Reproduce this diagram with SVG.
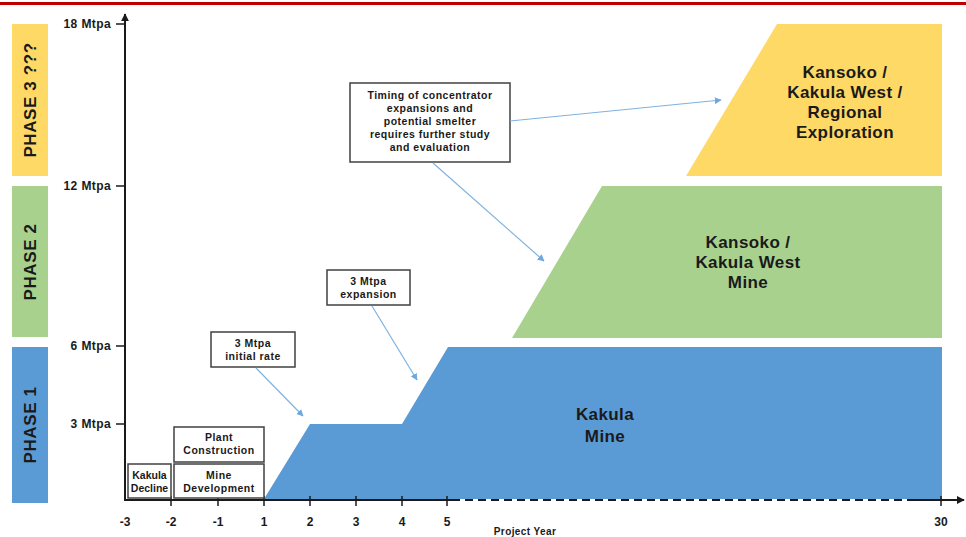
<svg xmlns="http://www.w3.org/2000/svg" width="966" height="537" viewBox="0 0 966 537">
<defs>
<style>
text{font-family:"Liberation Sans",Arial,sans-serif;font-weight:bold;fill:#1a1a1a}
.ax{stroke:#1a1a1a;stroke-width:2;fill:none}
.tk{stroke:#1a1a1a;stroke-width:1.5}
.yl{font-size:12px;text-anchor:end;letter-spacing:0.4px}
.xl{font-size:12px;text-anchor:middle}
.ph{font-size:17px;text-anchor:middle;letter-spacing:0.6px}
.big{font-size:17px;text-anchor:middle;letter-spacing:0.4px}
.bx{fill:#fff;stroke:#404040;stroke-width:1.5}
.bt{font-size:10.5px;text-anchor:middle;letter-spacing:0.5px}
.cn{stroke:#7fb2e0;stroke-width:1.2;fill:none;marker-end:url(#ah)}
</style>
<marker id="ah" viewBox="0 0 10 10" refX="9" refY="5" markerWidth="7" markerHeight="7" orient="auto" markerUnits="userSpaceOnUse"><path d="M0,0 L10,5 L0,10 z" fill="#6fa8dc"/></marker>
<marker id="axh" viewBox="0 0 10 10" refX="9" refY="5" markerWidth="8" markerHeight="8" orient="auto" markerUnits="userSpaceOnUse"><path d="M0,0 L10,5 L0,10 z" fill="#1a1a1a"/></marker>
</defs>
<rect width="966" height="537" fill="#fff"/>
<line x1="0" y1="3.5" x2="966" y2="3.5" stroke="#c00000" stroke-width="3"/>

<g id="phases">
<g id="phase3"><rect x="12" y="24" width="36" height="152" fill="#ffd966"/><text class="ph" transform="translate(36,100) rotate(-90)">PHASE 3 ???</text></g>
<g id="phase2"><rect x="12" y="186" width="36" height="151" fill="#a9d18e"/><text class="ph" transform="translate(36,262) rotate(-90)">PHASE 2</text></g>
<g id="phase1"><rect x="12" y="347" width="36" height="156" fill="#5b9bd5"/><text class="ph" transform="translate(36,425) rotate(-90)">PHASE 1</text></g>
</g>

<g id="kakula-mine"><polygon points="264,499 310,424 402,424 448,347 942,347 942,499" fill="#5b9bd5"/><text class="big" x="605" y="420">Kakula</text><text class="big" x="605" y="442">Mine</text></g>
<g id="kansoko-mine"><polygon points="512,338 602,186 942,186 942,338" fill="#a9d18e"/><text class="big" x="748" y="248">Kansoko /</text><text class="big" x="748" y="268">Kakula West</text><text class="big" x="748" y="288">Mine</text></g>
<g id="regional"><polygon points="686,176 777,24 942,24 942,176" fill="#ffd966"/><text class="big" x="845" y="78">Kansoko /</text><text class="big" x="845" y="98">Kakula West /</text><text class="big" x="845" y="118">Regional</text><text class="big" x="845" y="138">Exploration</text></g>

<g id="axes">
<line class="ax" x1="125" y1="500" x2="125" y2="14" marker-end="url(#axh)"/>
<line class="ax" x1="124" y1="500" x2="452" y2="500"/>
<line class="ax" x1="452" y1="500" x2="910" y2="500" stroke-dasharray="8,5"/>
<line class="ax" x1="910" y1="500" x2="964" y2="500" marker-end="url(#axh)"/>
<g class="tk">
<line x1="116" y1="24" x2="125" y2="24"/><line x1="116" y1="186" x2="125" y2="186"/><line x1="116" y1="346" x2="125" y2="346"/><line x1="116" y1="424" x2="125" y2="424"/>
<line x1="171" y1="496" x2="171" y2="506"/><line x1="218" y1="496" x2="218" y2="506"/><line x1="264" y1="496" x2="264" y2="506"/><line x1="310" y1="496" x2="310" y2="506"/><line x1="356" y1="496" x2="356" y2="506"/><line x1="402" y1="496" x2="402" y2="506"/><line x1="447" y1="496" x2="447" y2="506"/><line x1="941" y1="496" x2="941" y2="506"/>
</g>
<text class="yl" x="111" y="28">18 Mtpa</text>
<text class="yl" x="111" y="190">12 Mtpa</text>
<text class="yl" x="111" y="350">6 Mtpa</text>
<text class="yl" x="111" y="428">3 Mtpa</text>
<text class="xl" x="125" y="526">-3</text>
<text class="xl" x="171" y="526">-2</text>
<text class="xl" x="218" y="526">-1</text>
<text class="xl" x="264" y="526">1</text>
<text class="xl" x="310" y="526">2</text>
<text class="xl" x="356" y="526">3</text>
<text class="xl" x="402" y="526">4</text>
<text class="xl" x="447" y="526">5</text>
<text class="xl" x="941" y="526">30</text>
<text x="525" y="535" style="font-size:10px;text-anchor:middle;letter-spacing:0.4px">Project Year</text>
</g>

<g id="kakula-decline"><rect class="bx" x="128" y="464" width="43" height="34"/><text class="bt" x="149.5" y="479" style="letter-spacing:0">Kakula</text><text class="bt" x="149.5" y="492" style="letter-spacing:0">Decline</text></g>
<g id="mine-development"><rect class="bx" x="174" y="464" width="90" height="34"/><text class="bt" x="219" y="479">Mine</text><text class="bt" x="219" y="492">Development</text></g>
<g id="plant-construction"><rect class="bx" x="174" y="427" width="90" height="35"/><text class="bt" x="219" y="441">Plant</text><text class="bt" x="219" y="454">Construction</text></g>
<g id="initial-rate"><rect class="bx" x="211" y="332" width="84" height="35"/><text class="bt" x="253" y="347">3 Mtpa</text><text class="bt" x="253" y="360">initial rate</text></g>
<g id="expansion"><rect class="bx" x="327" y="270" width="83" height="35"/><text class="bt" x="368.5" y="285">3 Mtpa</text><text class="bt" x="368.5" y="298">expansion</text></g>
<g id="timing"><rect class="bx" x="350" y="83" width="160" height="79"/><text class="bt" x="430" y="99">Timing of concentrator</text><text class="bt" x="430" y="112">expansions and</text><text class="bt" x="430" y="125">potential smelter</text><text class="bt" x="430" y="138">requires further study</text><text class="bt" x="430" y="151">and evaluation</text></g>

<g id="connectors">
<line class="cn" x1="256" y1="368" x2="303" y2="416"/>
<line class="cn" x1="372" y1="306" x2="417" y2="380"/>
<line class="cn" x1="510" y1="121" x2="721" y2="100"/>
<line class="cn" x1="433" y1="163" x2="544" y2="261"/>
</g>
</svg>
